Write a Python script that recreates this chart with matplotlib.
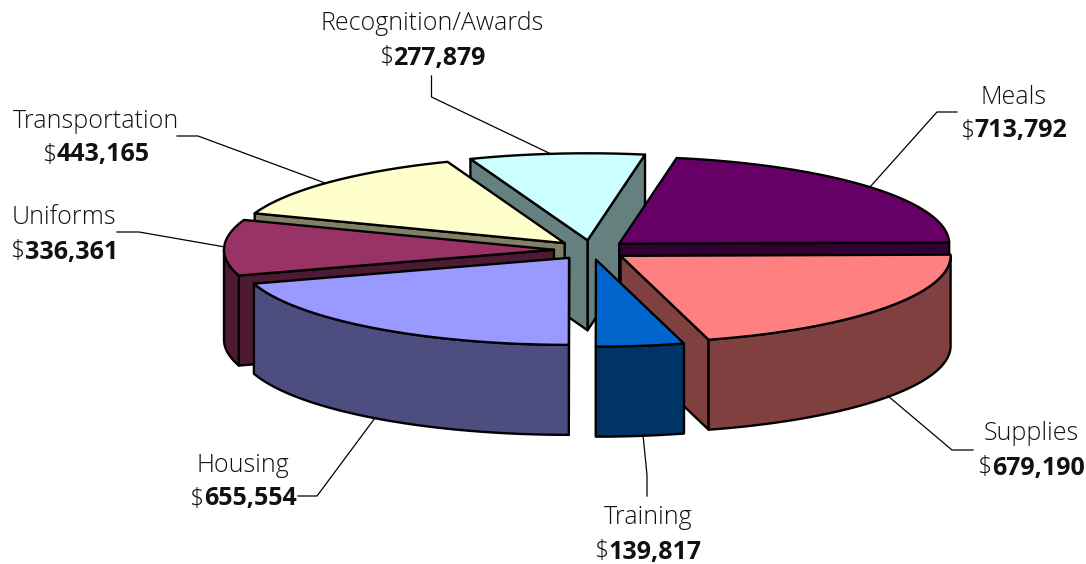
import numpy as np
import matplotlib
matplotlib.use("Agg")
import matplotlib.pyplot as plt
from matplotlib.patches import Polygon

categories = ["Meals", "Supplies", "Training", "Housing", "Uniforms", "Transportation", "Recognition/Awards"]
values = [713792, 679190, 139817, 655554, 336361, 443165, 277879]
top_colors = ["#660066", "#FF8080", "#0066CC", "#9999FF", "#993366", "#FFFFCC", "#CCFFFF"]
side_colors = ["#330033", "#804040", "#003366", "#4D4D80", "#4D1933", "#808066", "#668080"]

# layout
W, H = 1086, 564
CX, CY = 591, 250
RX, RY = 330, 87
DEPTH = 90
EXPLODE = 37
START = 360 * values[0] / sum(values) + 0.8
FS = 18
draw_order = ["Recognition/Awards", "Transportation", "Meals", "Uniforms", "Housing", "Supplies", "Training"]
label_pos = {"Meals": (1014, 97), "Supplies": (1031, 434), "Training": (648, 518), "Housing": (243, 465),
             "Uniforms": (64, 218), "Transportation": (96, 121), "Recognition/Awards": (432, 24)}
line_gap = 34
leaders = {"Meals": [(957, 112), (937, 112), (870, 187)],
           "Supplies": [(973, 450), (952, 450), (888, 396)],
           "Training": [(647, 496), (647, 475), (643, 435)],
           "Housing": [(298, 496), (317, 496), (375, 418)],
           "Uniforms": [(117, 232), (139, 232), (225, 247)],
           "Transportation": [(177, 136), (198, 136), (325, 183)],
           "Recognition/Awards": [(431.5, 76), (431.5, 97), (551, 154)]}
FONT = "Open Sans"

fig = plt.figure(figsize=(W / 100, H / 100), dpi=100)
ax = fig.add_axes([0, 0, 1, 1])
ax.set_xlim(0, W)
ax.set_ylim(H, 0)
ax.axis("off")

total = sum(values)
spans = {}
a = START
for name, v in zip(categories, values):
    b = a - 360 * v / total
    spans[name] = (b, a)
    a = b


def pt(t, ox, oy, dz=0):
    r = np.radians(t)
    return ox + RX * np.cos(r), oy - RY * np.sin(r) + dz


def poly(points, color, z):
    ax.add_patch(Polygon(points, closed=True, fc=color, ec="black", lw=1.7, joinstyle="round", zorder=z))


for i, name in enumerate(draw_order):
    lo, hi = spans[name]
    k = categories.index(name)
    mid = np.radians((lo + hi) / 2)
    ox = CX + EXPLODE * np.cos(mid)
    oy = CY - EXPLODE * RY / RX * np.sin(mid)
    z = 10 + i
    top, side = top_colors[k], side_colors[k]
    if np.cos(np.radians(lo)) > 0:
        p = pt(lo, ox, oy)
        poly([(ox, oy), p, (p[0], p[1] + DEPTH), (ox, oy + DEPTH)], side, z)
    if np.cos(np.radians(hi)) < 0:
        p = pt(hi, ox, oy)
        poly([(ox, oy), p, (p[0], p[1] + DEPTH), (ox, oy + DEPTH)], side, z)
    # outer rim, only the part turned toward the viewer
    ts = np.linspace(lo, hi, 200)
    vis = ts[np.sin(np.radians(ts)) <= 0]
    if len(vis) > 1:
        upper = [pt(t, ox, oy) for t in vis]
        lower = [pt(t, ox, oy, DEPTH) for t in vis[::-1]]
        poly(upper + lower, side, z)
    poly([(ox, oy)] + [pt(t, ox, oy) for t in ts], top, z)

for name, v in zip(categories, values):
    x, y = label_pos[name]
    ax.text(x, y, name, ha="center", va="center", fontsize=FS, family=FONT, weight="light", color="#111111", zorder=30)
    xs, ys = zip(*leaders[name])
    ax.plot(xs, ys, color="black", lw=0.9, zorder=30)

fig.canvas.draw()
rend = fig.canvas.get_renderer()
for name, v in zip(categories, values):
    x, y = label_pos[name]
    y2 = y + line_gap
    d = ax.text(0, y2, "$", ha="left", va="center", fontsize=FS, family=FONT, weight="light", color="#111111", zorder=30)
    n = ax.text(0, y2, f"{v:,}", ha="left", va="center", fontsize=FS, family=FONT, weight="bold", color="#111111", zorder=30)
    wd = d.get_window_extent(rend).width
    wn = n.get_window_extent(rend).width
    left = x - (wd + wn) / 2
    d.set_x(left)
    n.set_x(left + wd)

fig.savefig("out.png", dpi=100)
